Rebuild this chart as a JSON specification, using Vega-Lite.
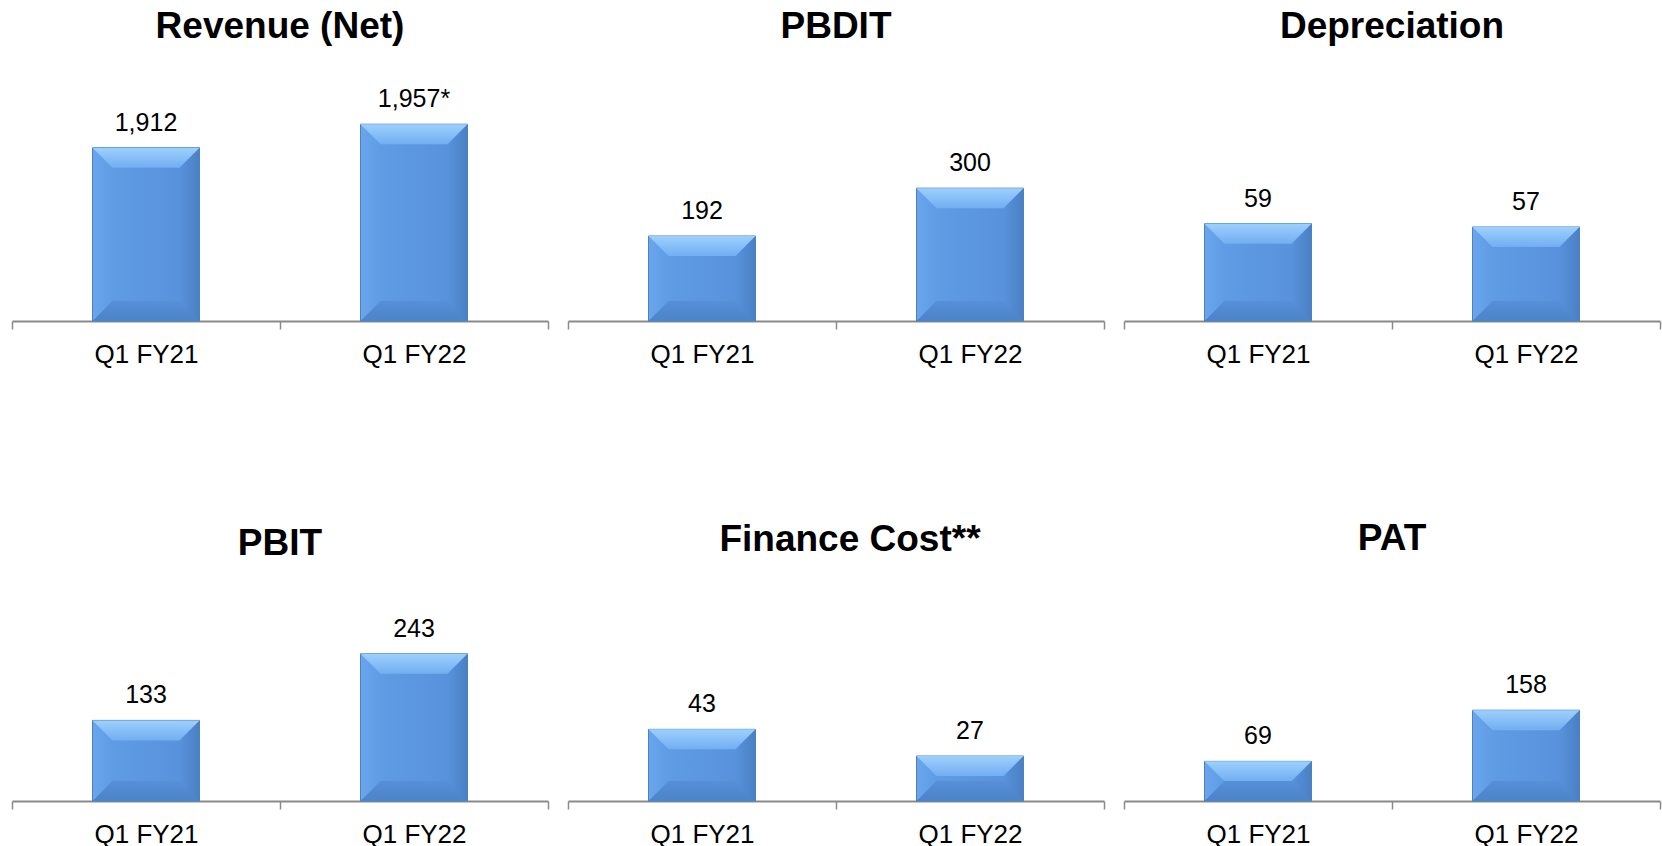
{
  "$schema": "https://vega.github.io/schema/vega-lite/v6.json",
  "background": "#ffffff",
  "padding": {"left": 11, "top": 8, "right": 5, "bottom": 5},
  "datasets": {
    "fin": [
      {"metric": "Revenue (Net)", "period": "Q1 FY21", "value": 1912, "label": "1,912"},
      {"metric": "Revenue (Net)", "period": "Q1 FY22", "value": 1957, "label": "1,957*"},
      {"metric": "PBDIT", "period": "Q1 FY21", "value": 192, "label": "192"},
      {"metric": "PBDIT", "period": "Q1 FY22", "value": 300, "label": "300"},
      {"metric": "Depreciation", "period": "Q1 FY21", "value": 59, "label": "59"},
      {"metric": "Depreciation", "period": "Q1 FY22", "value": 57, "label": "57"},
      {"metric": "PBIT", "period": "Q1 FY21", "value": 133, "label": "133"},
      {"metric": "PBIT", "period": "Q1 FY22", "value": 243, "label": "243"},
      {"metric": "Finance Cost**", "period": "Q1 FY21", "value": 43, "label": "43"},
      {"metric": "Finance Cost**", "period": "Q1 FY22", "value": 27, "label": "27"},
      {"metric": "PAT", "period": "Q1 FY21", "value": 69, "label": "69"},
      {"metric": "PAT", "period": "Q1 FY22", "value": 158, "label": "158"}
    ]
  },
  "config": {
    "view": {"stroke": null},
    "scale": {"bandPaddingInner": 0, "bandPaddingOuter": 0},
    "axisX": {
      "domainColor": "#8a8a8a", "domainWidth": 2, "tickColor": "#8a8a8a", "tickWidth": 1.5,
      "tickSize": 8, "tickBand": "extent", "labelFont": "Liberation Sans", "labelFontSize": 26,
      "labelColor": "#000000", "labelAngle": 0, "labelBaseline": "alphabetic", "labelPadding": 33,
      "grid": false, "title": null
    },
    "title": {"font": "Liberation Sans", "fontSize": 37, "fontWeight": "bold", "color": "#000000",
      "anchor": "middle", "baseline": "alphabetic", "frame": "group"},
    "text": {"font": "Liberation Sans", "fontSize": 25, "color": "#000000"}
  },
  "bounds": "flush",
  "columns": 3,
  "spacing": {"row": 280, "column": 20},
  "concat": [
    {
      "width": 536, "height": 240,
      "data": {"name": "fin"},
      "transform": [{"filter": "datum.metric === 'Revenue (Net)'"}],
      "title": {"text": "Revenue (Net)", "offset": 35},
      "encoding": {
        "x": {"field": "period", "type": "nominal", "sort": null, "axis": {"title": null}},
        "y": {"field": "value", "type": "quantitative", "scale": {"domain": [1579, 2040], "zero": false, "nice": false}, "axis": null}
      },
      "layer": [
        {"mark": {"type": "bar", "width": 107, "stroke": "#4f80c0", "strokeWidth": 1,
          "fill": {"gradient": "linear", "x1": 0, "y1": 0, "x2": 1, "y2": 0, "stops": [{"offset": 0, "color": "#69a6ed"}, {"offset": 0.18, "color": "#5f9ce4"}, {"offset": 0.82, "color": "#5892dc"}, {"offset": 1, "color": "#4a7fc3"}]}},
          "encoding": {"y2": {"datum": 1579}}},
        {"mark": {"type": "point", "shape": "M-1,0L1,0L0.626,0.374L-0.626,0.374Z", "size": 11449, "filled": true, "opacity": 1, "strokeWidth": 0,
          "fill": {"gradient": "linear", "x1": 0, "y1": 0, "x2": 0, "y2": 1, "stops": [{"offset": 0, "color": "#9dd0fd"}, {"offset": 1, "color": "#72aef1"}]}}},
        {"mark": {"type": "point", "shape": "M-1,0L1,0L0.626,-0.374L-0.626,-0.374Z", "size": 11449, "filled": true, "opacity": 1, "strokeWidth": 0,
          "fill": {"gradient": "linear", "x1": 0, "y1": 0, "x2": 0, "y2": 1, "stops": [{"offset": 0, "color": "#5790d8"}, {"offset": 1, "color": "#4c83c9"}]}},
          "encoding": {"y": {"datum": 1579, "type": "quantitative"}}},
        {"mark": {"type": "text", "baseline": "alphabetic", "dy": -17}, "encoding": {"text": {"field": "label"}}}
      ]
    },
    {
      "width": 536, "height": 240,
      "data": {"name": "fin"},
      "transform": [{"filter": "datum.metric === 'PBDIT'"}],
      "title": {"text": "PBDIT", "offset": 35},
      "encoding": {
        "x": {"field": "period", "type": "nominal", "sort": null, "axis": {"title": null}},
        "y": {"field": "value", "type": "quantitative", "scale": {"domain": [0, 542], "zero": false, "nice": false}, "axis": null}
      },
      "layer": [
        {"mark": {"type": "bar", "width": 107, "stroke": "#4f80c0", "strokeWidth": 1,
          "fill": {"gradient": "linear", "x1": 0, "y1": 0, "x2": 1, "y2": 0, "stops": [{"offset": 0, "color": "#69a6ed"}, {"offset": 0.18, "color": "#5f9ce4"}, {"offset": 0.82, "color": "#5892dc"}, {"offset": 1, "color": "#4a7fc3"}]}}},
        {"mark": {"type": "point", "shape": "M-1,0L1,0L0.626,0.374L-0.626,0.374Z", "size": 11449, "filled": true, "opacity": 1, "strokeWidth": 0,
          "fill": {"gradient": "linear", "x1": 0, "y1": 0, "x2": 0, "y2": 1, "stops": [{"offset": 0, "color": "#9dd0fd"}, {"offset": 1, "color": "#72aef1"}]}}},
        {"mark": {"type": "point", "shape": "M-1,0L1,0L0.626,-0.374L-0.626,-0.374Z", "size": 11449, "filled": true, "opacity": 1, "strokeWidth": 0,
          "fill": {"gradient": "linear", "x1": 0, "y1": 0, "x2": 0, "y2": 1, "stops": [{"offset": 0, "color": "#5790d8"}, {"offset": 1, "color": "#4c83c9"}]}},
          "encoding": {"y": {"datum": 0, "type": "quantitative"}}},
        {"mark": {"type": "text", "baseline": "alphabetic", "dy": -17}, "encoding": {"text": {"field": "label"}}}
      ]
    },
    {
      "width": 536, "height": 240,
      "data": {"name": "fin"},
      "transform": [{"filter": "datum.metric === 'Depreciation'"}],
      "title": {"text": "Depreciation", "offset": 35},
      "encoding": {
        "x": {"field": "period", "type": "nominal", "sort": null, "axis": {"title": null}},
        "y": {"field": "value", "type": "quantitative", "scale": {"domain": [0, 145.5], "zero": false, "nice": false}, "axis": null}
      },
      "layer": [
        {"mark": {"type": "bar", "width": 107, "stroke": "#4f80c0", "strokeWidth": 1,
          "fill": {"gradient": "linear", "x1": 0, "y1": 0, "x2": 1, "y2": 0, "stops": [{"offset": 0, "color": "#69a6ed"}, {"offset": 0.18, "color": "#5f9ce4"}, {"offset": 0.82, "color": "#5892dc"}, {"offset": 1, "color": "#4a7fc3"}]}}},
        {"mark": {"type": "point", "shape": "M-1,0L1,0L0.626,0.374L-0.626,0.374Z", "size": 11449, "filled": true, "opacity": 1, "strokeWidth": 0,
          "fill": {"gradient": "linear", "x1": 0, "y1": 0, "x2": 0, "y2": 1, "stops": [{"offset": 0, "color": "#9dd0fd"}, {"offset": 1, "color": "#72aef1"}]}}},
        {"mark": {"type": "point", "shape": "M-1,0L1,0L0.626,-0.374L-0.626,-0.374Z", "size": 11449, "filled": true, "opacity": 1, "strokeWidth": 0,
          "fill": {"gradient": "linear", "x1": 0, "y1": 0, "x2": 0, "y2": 1, "stops": [{"offset": 0, "color": "#5790d8"}, {"offset": 1, "color": "#4c83c9"}]}},
          "encoding": {"y": {"datum": 0, "type": "quantitative"}}},
        {"mark": {"type": "text", "baseline": "alphabetic", "dy": -17}, "encoding": {"text": {"field": "label"}}}
      ]
    },
    {
      "width": 536, "height": 200,
      "data": {"name": "fin"},
      "transform": [{"filter": "datum.metric === 'PBIT'"}],
      "title": {"text": "PBIT", "offset": 38},
      "encoding": {
        "x": {"field": "period", "type": "nominal", "sort": null, "axis": {"title": null}},
        "y": {"field": "value", "type": "quantitative", "scale": {"domain": [0, 330], "zero": false, "nice": false}, "axis": null}
      },
      "layer": [
        {"mark": {"type": "bar", "width": 107, "stroke": "#4f80c0", "strokeWidth": 1,
          "fill": {"gradient": "linear", "x1": 0, "y1": 0, "x2": 1, "y2": 0, "stops": [{"offset": 0, "color": "#69a6ed"}, {"offset": 0.18, "color": "#5f9ce4"}, {"offset": 0.82, "color": "#5892dc"}, {"offset": 1, "color": "#4a7fc3"}]}}},
        {"mark": {"type": "point", "shape": "M-1,0L1,0L0.626,0.374L-0.626,0.374Z", "size": 11449, "filled": true, "opacity": 1, "strokeWidth": 0,
          "fill": {"gradient": "linear", "x1": 0, "y1": 0, "x2": 0, "y2": 1, "stops": [{"offset": 0, "color": "#9dd0fd"}, {"offset": 1, "color": "#72aef1"}]}}},
        {"mark": {"type": "point", "shape": "M-1,0L1,0L0.626,-0.374L-0.626,-0.374Z", "size": 11449, "filled": true, "opacity": 1, "strokeWidth": 0,
          "fill": {"gradient": "linear", "x1": 0, "y1": 0, "x2": 0, "y2": 1, "stops": [{"offset": 0, "color": "#5790d8"}, {"offset": 1, "color": "#4c83c9"}]}},
          "encoding": {"y": {"datum": 0, "type": "quantitative"}}},
        {"mark": {"type": "text", "baseline": "alphabetic", "dy": -17}, "encoding": {"text": {"field": "label"}}}
      ]
    },
    {
      "width": 536, "height": 200,
      "data": {"name": "fin"},
      "transform": [{"filter": "datum.metric === 'Finance Cost**'"}],
      "title": {"text": "Finance Cost**", "offset": 42, "dx": 14},
      "encoding": {
        "x": {"field": "period", "type": "nominal", "sort": null, "axis": {"title": null}},
        "y": {"field": "value", "type": "quantitative", "scale": {"domain": [0, 120], "zero": false, "nice": false}, "axis": null}
      },
      "layer": [
        {"mark": {"type": "bar", "width": 107, "stroke": "#4f80c0", "strokeWidth": 1,
          "fill": {"gradient": "linear", "x1": 0, "y1": 0, "x2": 1, "y2": 0, "stops": [{"offset": 0, "color": "#69a6ed"}, {"offset": 0.18, "color": "#5f9ce4"}, {"offset": 0.82, "color": "#5892dc"}, {"offset": 1, "color": "#4a7fc3"}]}}},
        {"mark": {"type": "point", "shape": "M-1,0L1,0L0.626,0.374L-0.626,0.374Z", "size": 11449, "filled": true, "opacity": 1, "strokeWidth": 0,
          "fill": {"gradient": "linear", "x1": 0, "y1": 0, "x2": 0, "y2": 1, "stops": [{"offset": 0, "color": "#9dd0fd"}, {"offset": 1, "color": "#72aef1"}]}}},
        {"mark": {"type": "point", "shape": "M-1,0L1,0L0.626,-0.374L-0.626,-0.374Z", "size": 11449, "filled": true, "opacity": 1, "strokeWidth": 0,
          "fill": {"gradient": "linear", "x1": 0, "y1": 0, "x2": 0, "y2": 1, "stops": [{"offset": 0, "color": "#5790d8"}, {"offset": 1, "color": "#4c83c9"}]}},
          "encoding": {"y": {"datum": 0, "type": "quantitative"}}},
        {"mark": {"type": "text", "baseline": "alphabetic", "dy": -17}, "encoding": {"text": {"field": "label"}}}
      ]
    },
    {
      "width": 536, "height": 200,
      "data": {"name": "fin"},
      "transform": [{"filter": "datum.metric === 'PAT'"}],
      "title": {"text": "PAT", "offset": 43},
      "encoding": {
        "x": {"field": "period", "type": "nominal", "sort": null, "axis": {"title": null}},
        "y": {"field": "value", "type": "quantitative", "scale": {"domain": [0, 348], "zero": false, "nice": false}, "axis": null}
      },
      "layer": [
        {"mark": {"type": "bar", "width": 107, "stroke": "#4f80c0", "strokeWidth": 1,
          "fill": {"gradient": "linear", "x1": 0, "y1": 0, "x2": 1, "y2": 0, "stops": [{"offset": 0, "color": "#69a6ed"}, {"offset": 0.18, "color": "#5f9ce4"}, {"offset": 0.82, "color": "#5892dc"}, {"offset": 1, "color": "#4a7fc3"}]}}},
        {"mark": {"type": "point", "shape": "M-1,0L1,0L0.626,0.374L-0.626,0.374Z", "size": 11449, "filled": true, "opacity": 1, "strokeWidth": 0,
          "fill": {"gradient": "linear", "x1": 0, "y1": 0, "x2": 0, "y2": 1, "stops": [{"offset": 0, "color": "#9dd0fd"}, {"offset": 1, "color": "#72aef1"}]}}},
        {"mark": {"type": "point", "shape": "M-1,0L1,0L0.626,-0.374L-0.626,-0.374Z", "size": 11449, "filled": true, "opacity": 1, "strokeWidth": 0,
          "fill": {"gradient": "linear", "x1": 0, "y1": 0, "x2": 0, "y2": 1, "stops": [{"offset": 0, "color": "#5790d8"}, {"offset": 1, "color": "#4c83c9"}]}},
          "encoding": {"y": {"datum": 0, "type": "quantitative"}}},
        {"mark": {"type": "text", "baseline": "alphabetic", "dy": -17}, "encoding": {"text": {"field": "label"}}}
      ]
    }
  ]
}
